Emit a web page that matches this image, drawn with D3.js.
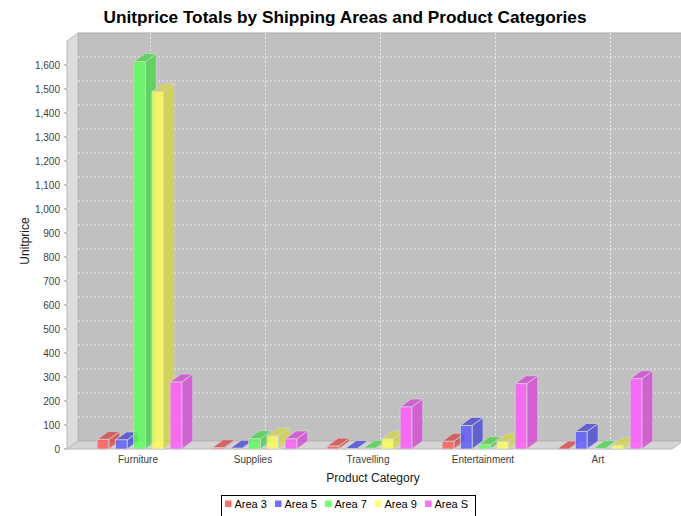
<!DOCTYPE html>
<html>
<head>
<meta charset="utf-8">
<script src="https://cdn.jsdelivr.net/npm/d3@7"></script>
<style>
  html, body { margin: 0; padding: 0; background: #ffffff; }
  svg { display: block; font-family: "Liberation Sans", Arial, Helvetica, sans-serif; }
</style>
</head>
<body>
<svg id="chart" width="681" height="516"></svg>
<script>
// ---------- data ----------
const categories = ["Furniture", "Supplies", "Travelling", "Entertainment", "Art"];
const seriesNames = ["Area 3", "Area 5", "Area 7", "Area 9", "Area S"];
const seriesColors = ["#ff5555", "#5555ff", "#55ff55", "#ffff55", "#ff55ff"];
const area3 = [40, 5, 12, 32, 0];
const area5 = [38, 3, 2, 98, 73];
const area7 = [1614, 43, 3, 18, 2];
const area9 = [1489, 55, 43, 32, 16];
const areaS = [279, 42, 175, 272, 293];
const seriesValues = [area3, area5, area7, area9, areaS];
const yTicks = d3.range(0, 1601, 100);

const title = "Unitprice Totals by Shipping Areas and Product Categories";
const xTitle = "Product Category";
const yTitle = "Unitprice";

// ---------- layout ----------
const svg = d3.select("#chart");
const W = 681, H = 516;
const front = { left: 67, right: 672, top: 41, bottom: 449 };
const dx = 11, dy = 8;

const y = d3.scaleLinear().domain([0, 1600]).range([front.bottom, 65]);
const x = d3.scaleBand().domain(categories).range([82, 657]).padding(0);
const xs = d3.scaleBand().domain(seriesNames).range([0, 84.6]).paddingInner(0.36).paddingOuter(0);

svg.append("rect").attr("width", W).attr("height", H).attr("fill", "#ffffff");

// title
svg.append("text")
  .attr("x", 345).attr("y", 23)
  .attr("text-anchor", "middle")
  .attr("font-size", 17).attr("font-weight", "bold")
  .attr("fill", "#000")
  .attr("textLength", 483).attr("lengthAdjust", "spacingAndGlyphs")
  .text(title);

const plot = svg.append("g");

// back wall
plot.append("rect")
  .attr("x", front.left + dx).attr("y", front.top - dy)
  .attr("width", W + 5 - (front.left + dx)).attr("height", front.bottom - front.top)
  .attr("fill", "#c0c0c0").attr("stroke", "#a8a8a8").attr("stroke-width", 1);

// left wall
plot.append("path")
  .attr("d", `M${front.left},${front.bottom} L${front.left},${front.top} L${front.left+dx},${front.top-dy} L${front.left+dx},${front.bottom-dy} Z`)
  .attr("fill", "#dcdcdc").attr("stroke", "#b8b8b8").attr("stroke-width", 1);

// floor
plot.append("path")
  .attr("d", `M${front.left},${front.bottom} L${front.right},${front.bottom} L${front.right+dx},${front.bottom-dy} L${front.left+dx},${front.bottom-dy} Z`)
  .attr("fill", "#d4d4d4").attr("stroke", "#b8b8b8").attr("stroke-width", 1);

// range gridlines (back wall + left wall diagonals)
const grid = plot.append("g").attr("stroke", "#ececec").attr("stroke-width", 1)
  .attr("stroke-dasharray", "2,2").attr("fill", "none");
yTicks.filter(v => v > 0).forEach(v => {
  const yy = y(v);
  grid.append("line").attr("x1", front.left + dx).attr("x2", W + 5)
    .attr("y1", yy - dy).attr("y2", yy - dy);
  grid.append("line").attr("x1", front.left).attr("x2", front.left + dx)
    .attr("y1", yy).attr("y2", yy - dy);
});
// domain gridlines
categories.forEach(c => {
  const cx = x(c) + x.bandwidth() / 2;
  grid.append("line").attr("x1", cx + dx).attr("x2", cx + dx)
    .attr("y1", front.top - dy).attr("y2", front.bottom - dy);
});

// bars
const bars = plot.append("g");
seriesNames.forEach((s, si) => {
  const col = d3.color(seriesColors[si]);
  const dark = col.darker(0.5);
  categories.forEach((c, ci) => {
    const v = seriesValues[si][ci];
    const cx = x(c) + x.bandwidth() / 2;
    const x0 = cx - 42.3 + xs(s);
    const w = xs.bandwidth();
    const yTop = y(v), yBot = y(0);
    const g = bars.append("g").attr("stroke", "#d0d0d0").attr("stroke-width", 0.8)
      .attr("stroke-linejoin", "round");
    // side
    g.append("path")
      .attr("d", `M${x0+w},${yTop} L${x0+w+dx},${yTop-dy} L${x0+w+dx},${yBot-dy} L${x0+w},${yBot} Z`)
      .attr("fill", dark).attr("fill-opacity", 0.8);
    // top
    g.append("path")
      .attr("d", `M${x0},${yTop} L${x0+dx},${yTop-dy} L${x0+w+dx},${yTop-dy} L${x0+w},${yTop} Z`)
      .attr("fill", dark).attr("fill-opacity", 0.8);
    // front
    if (yBot - yTop > 0.5) {
      g.append("rect")
        .attr("x", x0).attr("y", yTop).attr("width", w).attr("height", yBot - yTop)
        .attr("fill", col).attr("fill-opacity", 0.8);
    }
  });
});

// y axis ticks + labels
const yAxis = svg.append("g");
yTicks.forEach(v => {
  yAxis.append("line").attr("x1", front.left - 3).attr("x2", front.left)
    .attr("y1", y(v)).attr("y2", y(v)).attr("stroke", "#999").attr("stroke-width", 1);
  yAxis.append("text").attr("x", 60).attr("y", y(v)).attr("dy", "0.35em")
    .attr("text-anchor", "end").attr("font-size", 10).attr("fill", "#404040")
    .text(d3.format(",")(v));
});

// x axis labels
const xAxis = svg.append("g");
categories.forEach(c => {
  xAxis.append("text").attr("x", x(c) + x.bandwidth() / 2 - 1.5).attr("y", 463)
    .attr("text-anchor", "middle").attr("font-size", 10).attr("fill", "#404040")
    .text(c);
});

// axis titles
svg.append("text").attr("x", 373).attr("y", 482).attr("text-anchor", "middle")
  .attr("font-size", 12).attr("fill", "#202020").text(xTitle);
svg.append("text").attr("transform", "translate(29,241) rotate(-90)")
  .attr("text-anchor", "middle").attr("font-size", 12).attr("fill", "#202020").text(yTitle);

// legend
const leg = svg.append("g");
leg.append("rect").attr("x", 221.5).attr("y", 495.5).attr("width", 254).attr("height", 22)
  .attr("fill", "#fff").attr("stroke", "#000").attr("stroke-width", 1);
seriesNames.forEach((s, i) => {
  const lx = 225 + 50 * i;
  leg.append("rect").attr("x", lx).attr("y", 500.5).attr("width", 6.5).attr("height", 6.5)
    .attr("fill", seriesColors[i]).attr("fill-opacity", 0.85);
  leg.append("text").attr("x", lx + 9.5).attr("y", 508).attr("font-size", 11)
    .attr("fill", "#000").text(s);
});
</script>
</body>
</html>
